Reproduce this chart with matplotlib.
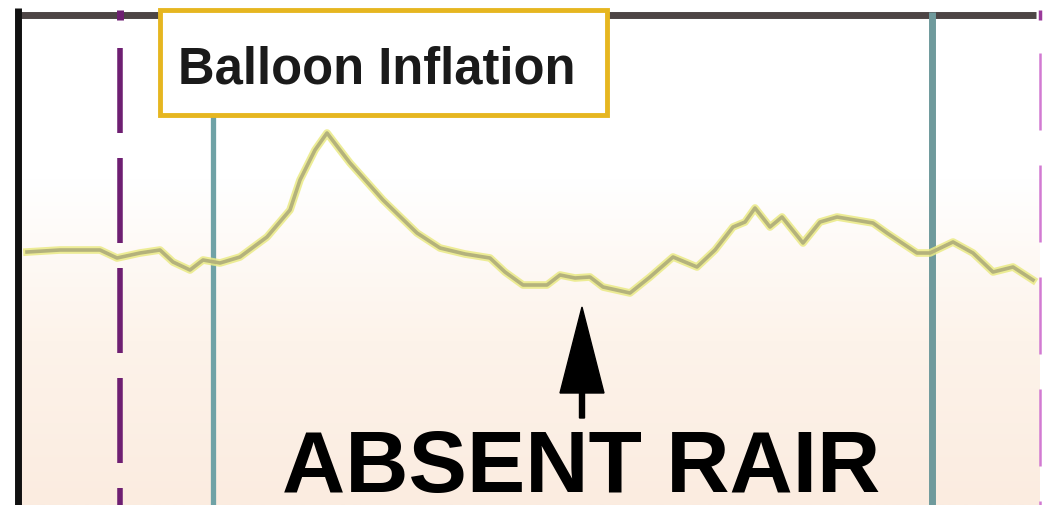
import matplotlib.pyplot as plt
from matplotlib.patches import Rectangle
from matplotlib.colors import LinearSegmentedColormap
import numpy as np

# pressure-like trace (x along time, y in screen units, down = lower)
trace_x = [27, 60, 100, 117, 140, 160, 173, 190, 203, 220, 240, 267, 290, 300,
           315, 327, 340, 350, 383, 417, 440, 465, 490, 505, 523, 547, 560,
           575, 590, 603, 630, 650, 673, 697, 715, 733, 745, 755, 770, 782,
           803, 820, 837, 855, 873, 887, 905, 917, 930, 953, 973, 993, 1013, 1033]
trace_y = [252, 250, 250, 258, 253, 250, 262, 270, 260, 263, 257, 237, 210, 180,
           150, 133, 150, 163, 200, 233, 248, 254, 258, 272, 285, 285, 275,
           278, 277, 287, 293, 277, 257, 267, 250, 227, 222, 208, 227, 217,
           243, 222, 217, 220, 223, 233, 245, 253, 253, 242, 253, 272, 267, 280]

# event markers
start_x = 120      # purple dash-dot
inflate_x = [213, 932]  # teal solid
end_x = 1040       # magenta dashed

box_label = 'Balloon Inflation'
note_label = 'ABSENT RAIR'
arrow_x = 582
arrow_tip_y = 307
arrow_tail_y = 418

fig = plt.figure(figsize=(10.51, 5.05), dpi=100)
ax = fig.add_axes([0, 0, 1, 1])
ax.set_xlim(0, 1051)
ax.set_ylim(505, 0)
ax.axis('off')

# background: white at the top fading to a light peach
cmap = LinearSegmentedColormap.from_list('bg', ['#ffffff', '#ffffff', '#fdf3ea', '#fbece0'])
grad = np.linspace(0, 1, 256).reshape(-1, 1)
ax.imshow(grad, extent=[18, 1040, 505, 15], cmap=cmap, aspect='auto', zorder=0)

# frame lines
ax.plot([18, 18], [8, 505], color='#111111', lw=5, solid_capstyle='butt', zorder=3)
ax.plot([18, 1036], [15, 15], color='#4d4545', lw=5, solid_capstyle='butt', zorder=2)

# purple dash-dot line
ax.plot([start_x, start_x], [48, 505], color='#6e1f72', lw=4,
        linestyle=(0, (15.3, 4.5)), dash_capstyle='butt', zorder=2)
ax.plot([start_x, start_x], [10, 20], color='#6e1f72', lw=5, solid_capstyle='butt', zorder=2)

# magenta dashed line at the right
ax.plot([end_x, end_x], [53, 505], color='#d27ad2', lw=1.8,
        linestyle=(0, (30.8, 14)), dash_capstyle='butt', zorder=2)
ax.plot([end_x, end_x], [10, 20], color='#9a3a9a', lw=2.5, solid_capstyle='butt', zorder=2)

# teal inflation lines
ax.plot([inflate_x[0], inflate_x[0]], [115, 505], color='#6fa2a6', lw=3.8,
        solid_capstyle='butt', zorder=2)
ax.plot([inflate_x[1], inflate_x[1]], [12, 505], color='#6f9a9c', lw=5,
        solid_capstyle='butt', zorder=2)

# trace: yellow halo with an olive core
ax.plot(trace_x, trace_y, color='#eaea84', lw=5.5, alpha=0.85, zorder=4,
        solid_joinstyle='round')
ax.plot(trace_x, trace_y, color='#b4b27c', lw=2.6, zorder=5, solid_joinstyle='round')

# label box
ax.add_patch(Rectangle((160, 10), 447, 105, facecolor='white', edgecolor='#e6b620',
                       lw=3.5, zorder=6))
ax.text(178, 83, box_label, fontsize=36.5, family='Liberation Sans', weight='bold',
        color='#1a1a1a', va='baseline', ha='left', zorder=7)

# arrow + note
ax.arrow(arrow_x, arrow_tail_y, 0, arrow_tip_y - arrow_tail_y, width=5,
         head_width=44, head_length=86, length_includes_head=True,
         color='black', zorder=7)
ax.text(581, 492, note_label, fontsize=63, family='Liberation Sans', weight='bold',
        color='black', ha='center', va='baseline', zorder=7)

fig.savefig('out.png', dpi=100)
plt.close()
